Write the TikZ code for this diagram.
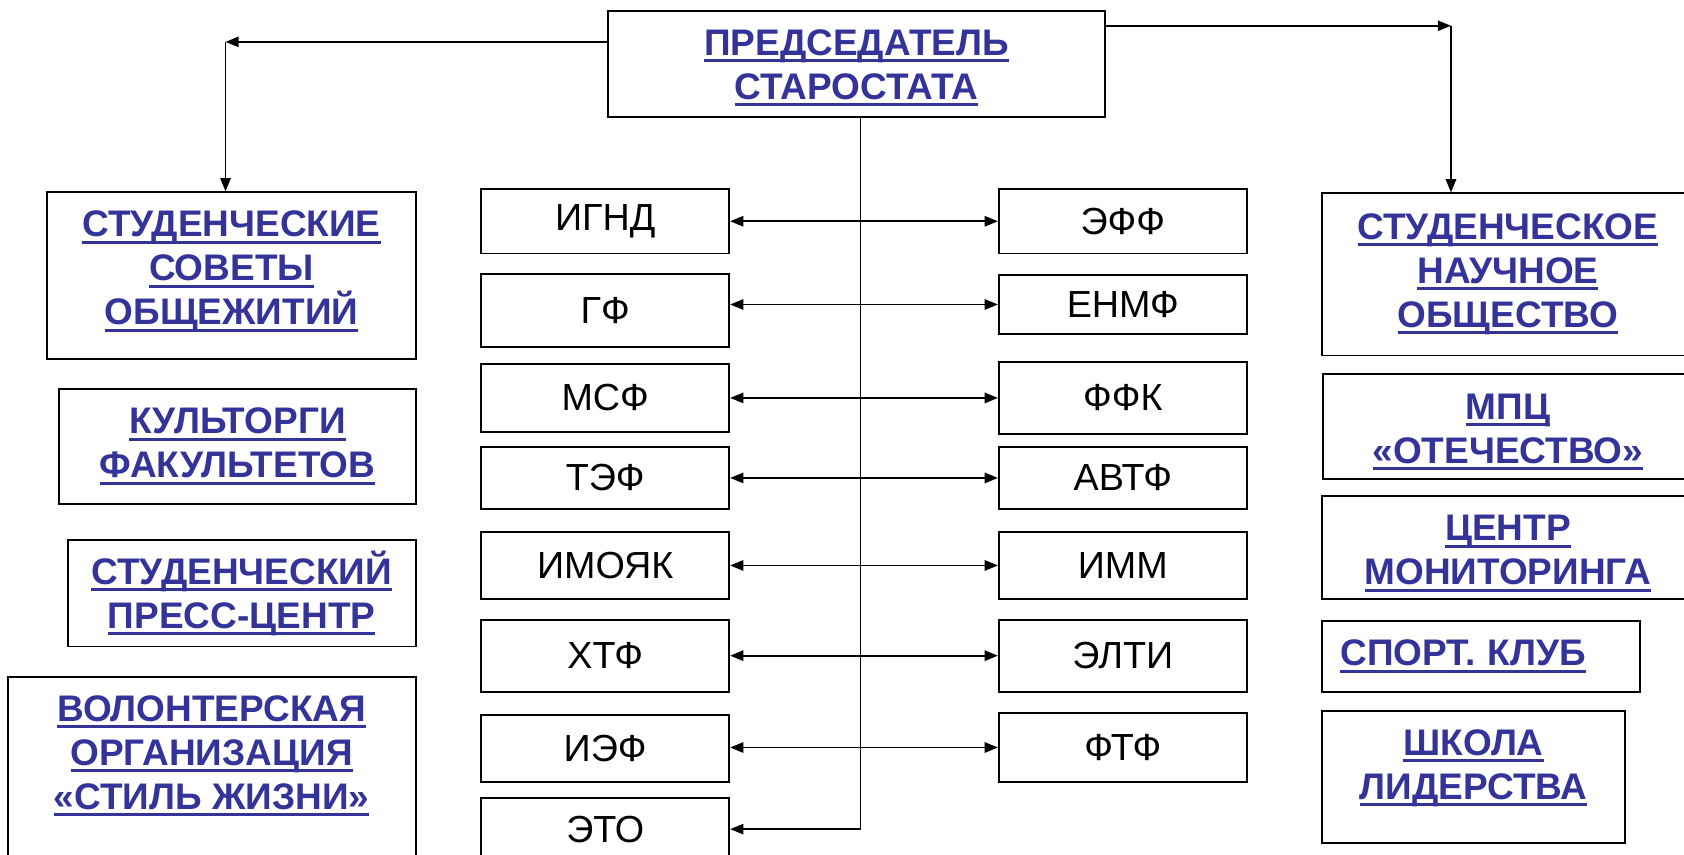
\documentclass[tikz,border=0pt]{standalone}
\usepackage{fontspec}
\setmainfont{Liberation Sans}
\usetikzlibrary{arrows.meta}
\definecolor{orgblue}{RGB}{51,51,153}
\newcommand{\ulbox}[1]{\setbox0=\hbox{#1}\rlap{\rule[-3.6pt]{\wd0}{1.6pt}}\box0}
\tikzset{
  fac/.style={draw, line width=1pt, inner sep=0pt, minimum width=4.62cm, font=\fontsize{20}{24}\selectfont},
  org/.style={draw, line width=1pt, inner sep=0pt, align=center, text=orgblue, font=\bfseries\fontsize{19.6}{23.3}\selectfont},
  orgtext/.style={inner sep=0pt, align=center, text=orgblue, font=\bfseries\fontsize{19.6}{23.3}\selectfont},
  tolink/.style={-{Triangle[length=7pt,width=5.5pt]}, line width=0.9pt},
  crosslink/.style={{Triangle[length=7pt,width=5.5pt]}-{Triangle[length=7pt,width=5.5pt]}, line width=0.9pt}
}
\begin{document}
\begin{tikzpicture}[x=0.02cm, y=-0.02cm]
	\useasboundingbox (0,0) rectangle (1568,796);

	\node[org, minimum width=9.26cm, minimum height=1.98cm] (chair) at (797.5,59.5) {};
	\node[orgtext] (chairtext) at (797.5,63) {\ulbox{ПРЕДСЕДАТЕЛЬ}\\\ulbox{СТАРОСТАТА}};

	% left column
	\node[org, minimum width=6.86cm, minimum height=3.1cm] (sovety) at (215.5,256.5) {};
	\node[orgtext] (sovetytext) at (215.5,253) {\ulbox{СТУДЕНЧЕСКИЕ}\\\ulbox{СОВЕТЫ}\\\ulbox{ОБЩЕЖИТИЙ}};
	\node[org, minimum width=6.64cm, minimum height=2.14cm] (kultorg) at (221,415.5) {\ulbox{КУЛЬТОРГИ}\\\ulbox{ФАКУЛЬТЕТОВ}};
	\node[org, minimum width=6.48cm, minimum height=1.98cm] (press) at (225,552.5) {\ulbox{СТУДЕНЧЕСКИЙ}\\\ulbox{ПРЕСС-ЦЕНТР}};
	\node[org, minimum width=7.6cm, minimum height=4.4cm] (vol) at (197,740) {};
	\node[orgtext] (voltext) at (197,704) {\ulbox{ВОЛОНТЕРСКАЯ}\\\ulbox{ОРГАНИЗАЦИЯ}\\\ulbox{«СТИЛЬ ЖИЗНИ»}};

	% right column
	\node[org, minimum width=6.92cm, minimum height=3.02cm] (sno) at (1404,255.5) {\ulbox{СТУДЕНЧЕСКОЕ}\\\ulbox{НАУЧНОЕ}\\\ulbox{ОБЩЕСТВО}};
	\node[org, minimum width=6.88cm, minimum height=1.96cm] (mpc) at (1404,397) {};
	\node[orgtext] (mpctext) at (1404,402) {\ulbox{МПЦ}\\\ulbox{«ОТЕЧЕСТВО»}};
	\node[org, minimum width=6.92cm, minimum height=1.92cm] (monitor) at (1404,510) {};
	\node[orgtext] (monitortext) at (1404,515.5) {\ulbox{ЦЕНТР}\\\ulbox{МОНИТОРИНГА}};
	\node[org, minimum height=1.32cm, text width=5.24cm, inner xsep=0.34cm, align=left] (sport) at (1379,611) {\ulbox{СПОРТ. КЛУБ}};
	\node[org, minimum width=5.64cm, minimum height=2.46cm] (shkola) at (1372,723.5) {};
	\node[orgtext] (shkolatext) at (1372,715.5) {\ulbox{ШКОЛА}\\\ulbox{ЛИДЕРСТВА}};

	% faculties
	\node[fac, minimum height=1.2cm] (ignd) at (563.5,206) {ИГНД};
	\node[fac, minimum height=1.36cm] (gf) at (563.5,289) {ГФ};
	\node[fac, minimum height=1.26cm] (msf) at (563.5,370.5) {МСФ};
	\node[fac, minimum height=1.16cm] (tef) at (563.5,445) {ТЭФ};
	\node[fac, minimum height=1.26cm] (imoyak) at (563.5,526.5) {ИМОЯК};
	\node[fac, minimum height=1.34cm] (htf) at (563.5,610.5) {ХТФ};
	\node[fac, minimum height=1.24cm] (ief) at (563.5,697) {ИЭФ};
	\node[fac, minimum height=1.16cm] (eto) at (563.5,772) {ЭТО};

	\node[fac, minimum height=1.2cm] (eff) at (1045.5,206) {ЭФФ};
	\node[fac, minimum height=1.1cm] (enmf) at (1045.5,283.5) {ЕНМФ};
	\node[fac, minimum height=1.34cm] (ffk) at (1045.5,370.5) {ФФК};
	\node[fac, minimum height=1.16cm] (avtf) at (1045.5,445) {АВТФ};
	\node[fac, minimum height=1.26cm] (imm) at (1045.5,526.5) {ИММ};
	\node[fac, minimum height=1.34cm] (elti) at (1045.5,610.5) {ЭЛТИ};
	\node[fac, minimum height=1.28cm] (ftf) at (1045.5,696) {ФТФ};

	\draw[crosslink] (ignd.east) -- (eff.west);
	\draw[crosslink] (gf.east |- enmf.west) -- (enmf.west);
	\draw[crosslink] (msf.east) -- (ffk.west);
	\draw[crosslink] (tef.east) -- (avtf.west);
	\draw[crosslink] (imoyak.east) -- (imm.west);
	\draw[crosslink] (htf.east) -- (elti.west);
	\draw[crosslink] (ief.east |- ftf.west) -- (ftf.west);

	% from the chairman
	\coordinate (lcorner) at (210,39);
	\coordinate (rcorner) at (1351,24);
	\coordinate (trunk) at (801,772);
	\draw[tolink] (chair.west |- lcorner) -- (lcorner);
	\draw[tolink] (lcorner) -- (sovety.north -| lcorner);
	\draw[tolink] (chair.east |- rcorner) -- (rcorner);
	\draw[tolink] (rcorner) -- (sno.north -| rcorner);
	\draw[tolink, line width=0.7pt] (chair.south -| trunk) |- (eto.east);
\end{tikzpicture}
\end{document}
